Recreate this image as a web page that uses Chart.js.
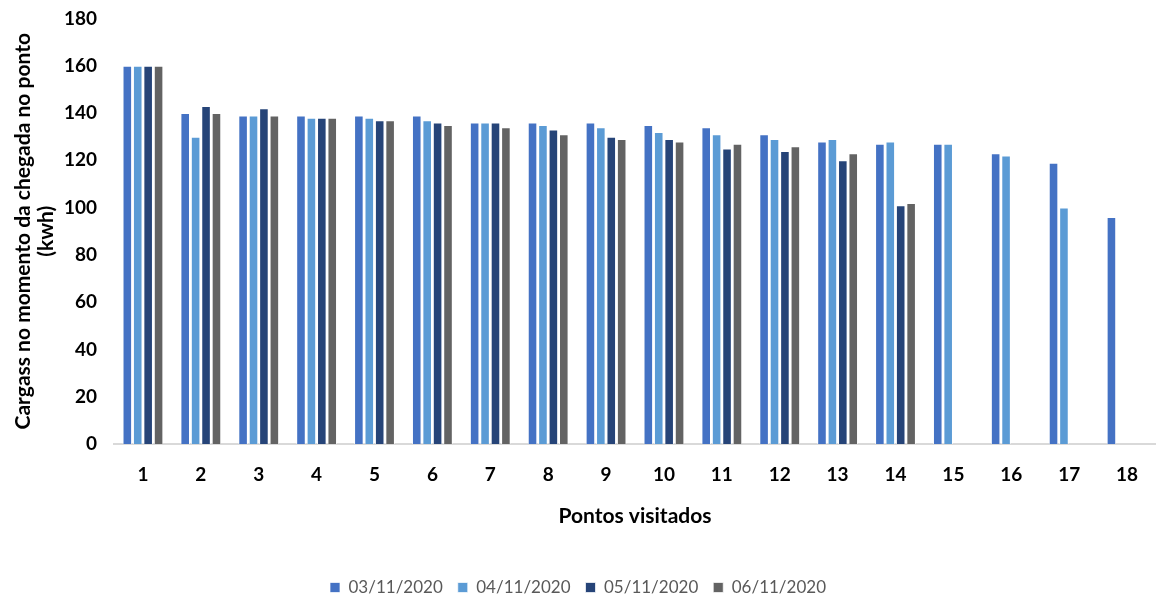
<!DOCTYPE html>
<html>
<head>
<meta charset="utf-8">
<script src="https://cdn.jsdelivr.net/npm/chart.js@4/dist/chart.umd.min.js"></script>
<style>
  html, body { margin: 0; padding: 0; background: #fff; }
  #wrap { width: 1156px; height: 596px; }
</style>
</head>
<body>
<div id="wrap"><canvas id="chart" width="1156" height="596"></canvas></div>
<script>
// ── Data ─────────────────────────────────────────────────
const pontos = ['1', '2', '3', '4', '5', '6', '7', '8', '9', '10', '11', '12', '13', '14', '15', '16', '17', '18'];
const dia03 = [160, 140, 139, 139, 139, 139, 136, 136, 136, 135, 134, 131, 128, 127, 127, 123, 119, 96];
const dia04 = [160, 130, 139, 138, 138, 137, 136, 135, 134, 132, 131, 129, 129, 128, 127, 122, 100, null];
const dia05 = [160, 143, 142, 138, 137, 136, 136, 133, 130, 129, 125, 124, 120, 101, null, null, null, null];
const dia06 = [160, 140, 139, 138, 137, 135, 134, 131, 129, 128, 127, 126, 123, 102, null, null, null, null];
const yTicks = [0, 20, 40, 60, 80, 100, 120, 140, 160, 180];

const fontFamily = 'Lato, "Open Sans", sans-serif';

function serie(label, data, color) {
    return {
        label, data,
        backgroundColor: color,
        borderColor: 'rgba(255,255,255,0.7)',
        borderWidth: 1,
        barPercentage: 0.92,
        categoryPercentage: 0.72,
    };
}

new Chart(document.getElementById('chart').getContext('2d'), {
    type: 'bar',
    data: {
        labels: pontos,
        datasets: [
            serie('03/11/2020', dia03, '#4472C4'),
            serie('04/11/2020', dia04, '#5B9BD5'),
            serie('05/11/2020', dia05, '#264478'),
            serie('06/11/2020', dia06, '#636363'),
        ]
    },
    options: {
        responsive: false,
        animation: false,
        // negative bottom padding pulls the legend row closer to the canvas edge
        layout: { padding: { top: 8, right: 0, left: 0, bottom: -10 } },
        scales: {
            y: {
                min: 0, max: 180,
                afterBuildTicks: s => { s.ticks = yTicks.map(v => ({ value: v })); },
                afterFit: s => { s.width = 114; },
                grid: { display: false },
                border: { display: false },
                ticks: { color: '#000', padding: 9, font: { family: fontFamily, size: 19, weight: 'bold', lineHeight: 1 } },
                title: {
                    display: true,
                    text: ['Cargass no momento da chegada no ponto', '(kwh)'],
                    color: '#000',
                    padding: { top: 12, bottom: 0 },
                    font: { family: fontFamily, size: 21, weight: 'bold', lineHeight: 1.1 }
                }
            },
            x: {
                afterFit: s => { s.height = 120; },
                grid: { display: false },
                border: { display: true, color: '#d9d9d9', width: 2 },
                ticks: { color: '#000', padding: 11, font: { family: fontFamily, size: 19, weight: 'bold' } },
                title: {
                    display: true,
                    text: 'Pontos visitados',
                    color: '#000',
                    padding: { top: 0, bottom: 35 },
                    font: { family: fontFamily, size: 21, weight: 'bold' }
                }
            }
        },
        plugins: {
            legend: {
                position: 'bottom',
                labels: {
                    color: '#595959',
                    boxWidth: 10, boxHeight: 10,
                    padding: 15,
                    font: { family: fontFamily, size: 17 }
                }
            },
            tooltip: { enabled: false }
        }
    }
});
</script>
</body>
</html>
